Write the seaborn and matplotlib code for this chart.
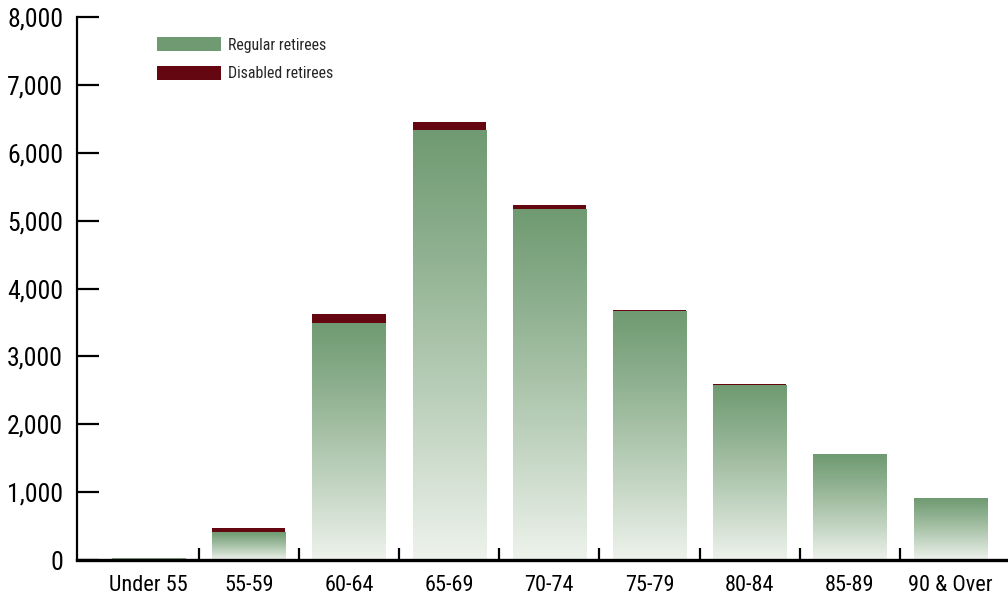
import numpy as np
import pandas as pd
import seaborn as sns
import matplotlib
matplotlib.use("Agg")
import matplotlib.pyplot as plt
from matplotlib import font_manager
from matplotlib.patches import Patch
from matplotlib.colors import to_rgb

# Retirees by age group
age_groups = ["Under 55", "55-59", "60-64", "65-69", "70-74",
              "75-79", "80-84", "85-89", "90 & Over"]
regular_retirees = [25, 410, 3490, 6335, 5170, 3668, 2578, 1560, 913]
disabled_retirees = [0, 60, 132, 118, 60, 15, 15, 0, 0]
y_ticks = [0, 1000, 2000, 3000, 4000, 5000, 6000, 7000, 8000]

GREEN = "#709b72"
PALE = "#eef3ec"
DARK = "#650710"

df = pd.DataFrame({
    "age": age_groups,
    "regular": regular_retirees,
    "disabled": disabled_retirees,
})
df["total"] = df["regular"] + df["disabled"]

sns.set_theme(style="white")

# Prefer a narrow face for the labels
names = {f.name for f in font_manager.fontManager.ttflist}
if "Roboto Condensed" in names:
    family = ["Roboto Condensed", "DejaVu Sans"]
elif "Liberation Sans Narrow" in names:
    family = ["Liberation Sans Narrow", "DejaVu Sans"]
else:
    family = ["Roboto", "DejaVu Sans"]
plt.rcParams["font.family"] = family
plt.rcParams["font.weight"] = "normal"

fig = plt.figure(figsize=(10.08, 5.98), dpi=100)
ax = fig.add_axes([77 / 1008, 38 / 598, 931 / 1008, 543 / 598])

# Disabled retirees sit on top: draw full totals in dark red, regular bars in front
sns.barplot(data=df, x="age", y="total", color=DARK, saturation=1,
            width=0.73, ax=ax, linewidth=0, zorder=2)
n = len(df)
sns.barplot(data=df, x="age", y="regular", color=GREEN, saturation=1,
            width=0.73, ax=ax, linewidth=0, zorder=3)

# Vertical green-to-pale gradient inside each regular bar
top_c = np.array(to_rgb(GREEN))
bot_c = np.array(to_rgb(PALE))
t = np.linspace(0, 1, 256) ** 1.1
grad = (top_c[None, :] * (1 - t[:, None]) + bot_c[None, :] * t[:, None])[:, None, :]
for p in ax.patches[n:2 * n]:
    x0, w, h = p.get_x(), p.get_width(), p.get_height()
    if h <= 0:
        continue
    im = ax.imshow(grad, extent=[x0, x0 + w, 0, h], origin="upper",
                   aspect="auto", zorder=3.5, interpolation="bilinear")
    im.set_clip_path(p)

ax.set_xlim(-0.714, 8.577)
ax.set_ylim(0, 8000)

ax.set_yticks(y_ticks)
ax.set_yticklabels([f"{v:,}" for v in y_ticks], fontsize=18.5)
ax.set_xticks(range(n))
ax.set_xticklabels(age_groups, fontsize=16)
ax.set_xticks(np.arange(0.5, n - 1, 1.0), minor=True)
ax.set_xlabel("")
ax.set_ylabel("")

ax.tick_params(axis="y", which="major", direction="in", length=16, width=1.6,
               color="black", pad=10, labelcolor="black", left=True)
ax.tick_params(axis="x", which="major", length=0, pad=11, labelcolor="black")
ax.tick_params(axis="x", which="minor", direction="in", length=9, width=1.6,
               color="black", bottom=True)

for side in ("top", "right"):
    ax.spines[side].set_visible(False)
ax.spines["left"].set_color("black")
ax.spines["left"].set_linewidth(1.6)
ax.spines["bottom"].set_color("black")
ax.spines["bottom"].set_linewidth(2.4)
ax.spines["bottom"].set_zorder(5)

handles = [Patch(facecolor=GREEN, edgecolor="none", label="Regular retirees"),
           Patch(facecolor=DARK, edgecolor="none", label="Disabled retirees")]
ax.legend(handles=handles, loc="upper left",
          bbox_to_anchor=(157 / 1008, 1 - 37 / 598), bbox_transform=fig.transFigure,
          frameon=False, fontsize=11.4, handlelength=4.05, handleheight=1.0,
          handletextpad=0.45, labelspacing=0.85, borderaxespad=0, borderpad=0)

fig.savefig("out.png", dpi=100)
